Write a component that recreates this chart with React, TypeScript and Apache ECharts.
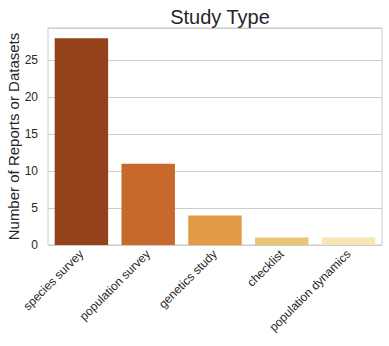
import React, { useEffect, useRef } from "react";
import * as echarts from "echarts";

const categories = ["species survey", "population survey", "genetics study", "checklist", "population dynamics"];
const counts = [28, 11, 4, 1, 1];
const barColors = ["#93421a", "#c7692b", "#e39a45", "#eac574", "#f5e7b3"];

export default function App() {
  const ref = useRef<HTMLDivElement>(null);
  useEffect(() => {
    const chart = echarts.init(ref.current!, null, { renderer: "svg" });
    const font = "'Liberation Sans', Arial, sans-serif";
    chart.setOption({
      animation: false,
      textStyle: { fontFamily: font },
      title: {
        text: "Study Type",
        left: 215,
        textAlign: "center",
        top: 2,
        textStyle: { fontFamily: font, fontSize: 20, fontWeight: "normal", color: "#262626" },
      },
      grid: {
        left: 48,
        right: 7,
        top: 28,
        bottom: 101,
        show: true,
        borderColor: "#cccccc",
        borderWidth: 1,
        outerBoundsMode: "none",
        containLabel: false,
      },
      xAxis: {
        type: "category",
        data: categories,
        axisTick: { show: false },
        axisLine: { show: true, lineStyle: { color: "#cccccc" } },
        axisLabel: { rotate: 45, fontSize: 12, color: "#262626", margin: 7, fontFamily: font, interval: 0 },
      },
      yAxis: {
        type: "value",
        min: 0,
        max: 29.4,
        interval: 5,
        name: "Number of Reports or Datasets",
        nameLocation: "middle",
        nameGap: 27,
        nameMoveOverlap: false,
        nameTextStyle: { fontSize: 15, color: "#262626", fontFamily: font },
        axisLine: { show: false },
        axisTick: { show: false },
        axisLabel: { fontSize: 12, color: "#262626", margin: 10, showMaxLabel: false, fontFamily: font },
        splitLine: { lineStyle: { color: "#cccccc", width: 1 } },
      },
      series: [
        {
          type: "bar",
          data: counts.map((v, i) => ({ value: v, itemStyle: { color: barColors[i] } })),
          barCategoryGap: "20%",
        },
      ],
    });
    return () => chart.dispose();
  }, []);
  return <div ref={ref} style={{ width: 389, height: 346, position: "absolute", left: 0, top: 0 }} />;
}
